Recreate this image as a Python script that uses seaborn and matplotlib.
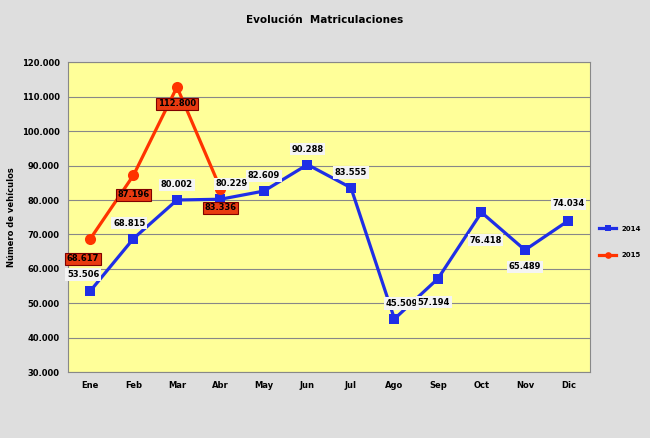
import matplotlib.pyplot as plt
import matplotlib.ticker as mticker
import seaborn as sns
import pandas as pd

meses = ["Ene", "Feb", "Mar", "Abr", "May", "Jun", "Jul", "Ago", "Sep", "Oct", "Nov", "Dic"]
v2014 = [53506, 68815, 80002, 80229, 82609, 90288, 83555, 45509, 57194, 76418, 65489, 74034]
v2015 = [68617, 87196, 112800, 83336]
# label offsets in points (dx, dy)
off2014 = [(-5, 12), (-3, 11), (0, 11), (8, 11), (0, 11), (0, 11), (0, 11), (5, 11), (-3, -17), (3, -20), (0, -12), (0, 12)]
off2015 = [(-5, -14), (0, -14), (0, -12), (0, -14)]

df = pd.DataFrame({"mes": meses, "x": range(12), "2014": v2014})
df15 = pd.DataFrame({"x": range(4), "2015": v2015})

fig = plt.figure(figsize=(6.5, 4.38), dpi=100, facecolor="#dedede")
ax = fig.add_axes([0.105, 0.15, 0.803, 0.708])
ax.set_facecolor("#ffff99")

sns.lineplot(data=df, x="x", y="2014", ax=ax, color="#1f2ee6", lw=2.3, marker="s",
             markersize=7, markeredgewidth=0, label="2014")
sns.lineplot(data=df15, x="x", y="2015", ax=ax, color="#ff3300", lw=2.3, marker="o",
             markersize=8, markeredgewidth=0, label="2015")

fmt = lambda v: f"{v:,.0f}".replace(",", ".")
for i, v in enumerate(v2014):
    ax.annotate(fmt(v), (i, v), xytext=off2014[i], textcoords="offset points", ha="center", va="center",
                fontsize=6, fontweight="bold",
                bbox=dict(boxstyle="square,pad=0.2", fc="#f4f4f4", ec="none"))
for i, v in enumerate(v2015):
    ax.annotate(fmt(v), (i, v), xytext=off2015[i], textcoords="offset points", ha="center", va="center",
                fontsize=6, fontweight="bold",
                bbox=dict(boxstyle="square,pad=0.2", fc="#e83a10", ec="#800000", lw=0.8))

ax.set_xlim(-0.5, 11.5)
ax.set_ylim(30000, 120000)
ax.set_xticks(range(12))
ax.set_xticklabels(meses)
ax.yaxis.set_major_locator(mticker.MultipleLocator(10000))
ax.yaxis.set_major_formatter(mticker.FuncFormatter(lambda v, p: fmt(v)))
ax.grid(axis="y", color="#888888", lw=0.8)
ax.set_axisbelow(True)
for s in ax.spines.values():
    s.set_color("#888888")
ax.tick_params(labelsize=6, length=0, pad=6)
for t in ax.get_xticklabels() + ax.get_yticklabels():
    t.set_fontweight("bold")
ax.set_xlabel("")
ax.set_ylabel("Número de vehículos", fontsize=6, fontweight="bold")
fig.text(0.5, 0.955, "Evolución  Matriculaciones", ha="center", va="center", fontsize=7.5, fontweight="bold")

leg = ax.legend(loc="center left", bbox_to_anchor=(1.005, 0.42), frameon=False,
                labelspacing=3, handlelength=2.5, markerscale=0.6, prop={"weight": "bold", "size": 5})

fig.savefig("out.png", dpi=100, facecolor=fig.get_facecolor())
